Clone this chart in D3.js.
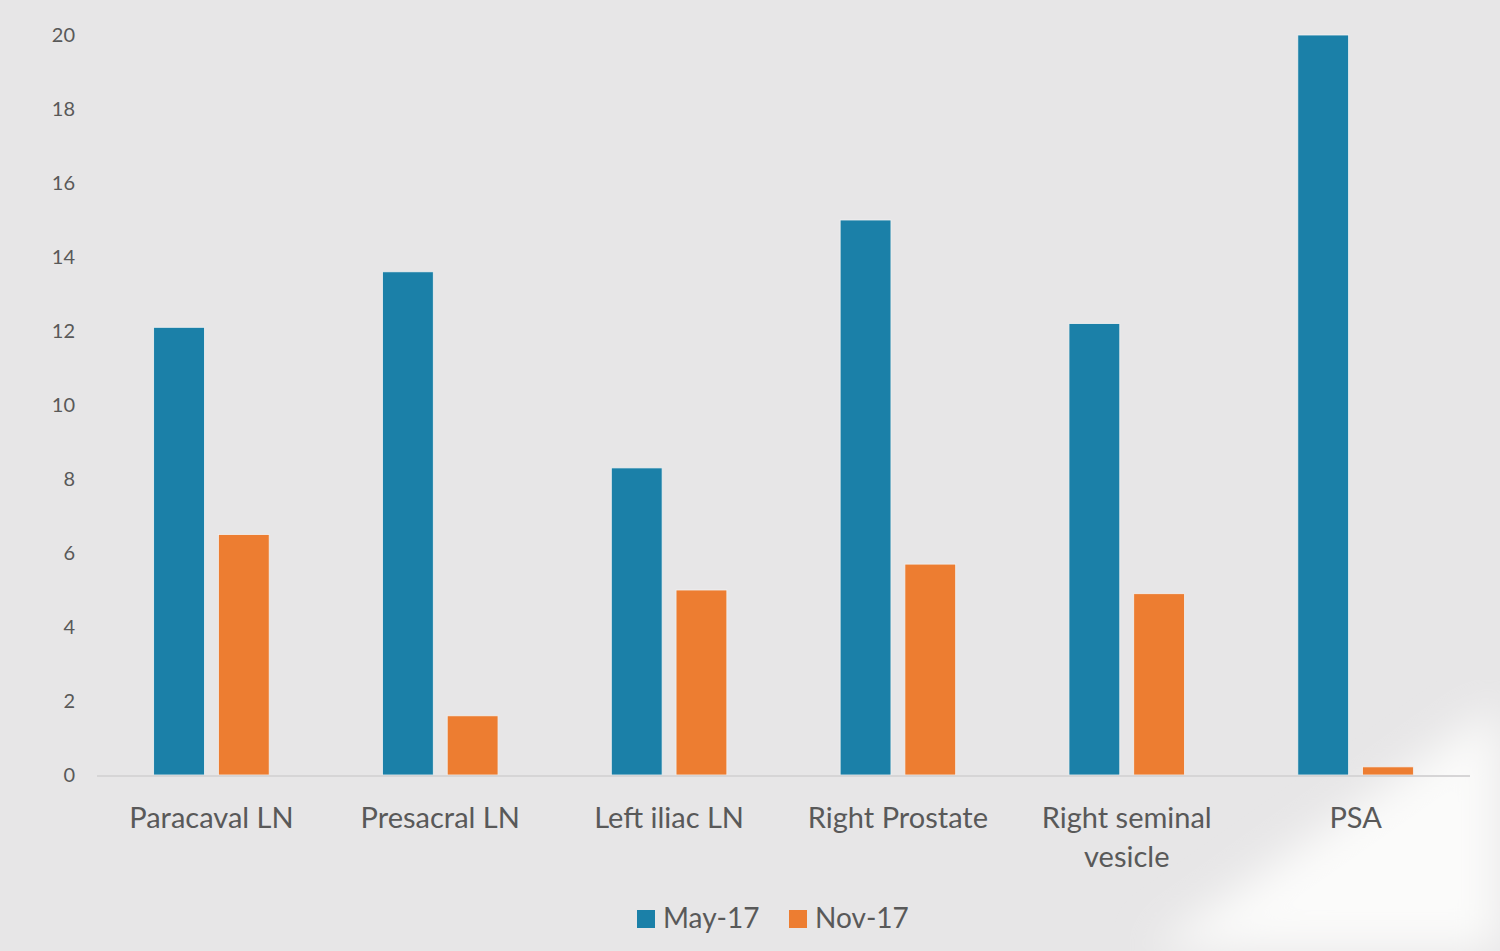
<!DOCTYPE html>
<html>
<head>
<meta charset="utf-8">
<script src="https://cdn.jsdelivr.net/npm/d3@7"></script>
<style>
  body { margin: 0; background: #e7e6e7; }
  svg { display: block; font-family: Lato, "Open Sans", sans-serif; }
</style>
</head>
<body>
<svg width="1500" height="951"></svg>
<script>
const categories = ["Paracaval LN", "Presacral LN", "Left iliac LN", "Right Prostate", "Right seminal vesicle", "PSA"];
const seriesNames = ["May-17", "Nov-17"];
const may17 = [12.1, 13.6, 8.3, 15.0, 12.2, 20.0];
const nov17 = [6.5, 1.6, 5.0, 5.7, 4.9, 0.22];
const yTicks = [0, 2, 4, 6, 8, 10, 12, 14, 16, 18, 20];
const colors = ["#1b80a8", "#ed7d31"];

const svg = d3.select("svg");
const margin = {top: 35, right: 30, bottom: 176, left: 97};
const width = 1500 - margin.left - margin.right;
const height = 951 - margin.top - margin.bottom;

// background: soft light streak in the lower right corner
const defs = svg.append("defs");
defs.append("filter").attr("id", "blur")
    .append("feGaussianBlur").attr("stdDeviation", 22);
svg.append("rect").attr("width", 1500).attr("height", 951).attr("fill", "#e7e6e7");
svg.append("polygon")
    .attr("points", "1500,705 1500,951 1150,951")
    .attr("fill", "#fbfbfa")
    .attr("filter", "url(#blur)");

const g = svg.append("g").attr("transform", `translate(${margin.left},${margin.top})`);

const x0 = d3.scaleBand().domain(categories).range([0, width]).padding(0);
const bw = x0.bandwidth();
const x1 = d3.scaleBand().domain(seriesNames).range([bw * 0.2475, bw * 0.7525]).paddingInner(0.215);
const y = d3.scaleLinear().domain([0, 20]).range([height, 0]);

// y axis labels
const yAxis = d3.axisLeft(y).tickValues(yTicks).tickSize(0).tickPadding(22);
g.append("g").call(yAxis)
    .call(s => s.select(".domain").remove())
    .selectAll("text")
    .attr("fill", "#595959")
    .style("font-size", "20px")
    .style("font-family", "Lato, 'Open Sans', sans-serif");

// bars
const data = categories.map((c, i) => ({cat: c, vals: [may17[i], nov17[i]]}));
const grp = g.selectAll(".cat").data(data).join("g")
    .attr("class", "cat")
    .attr("transform", d => `translate(${x0(d.cat)},0)`);
grp.selectAll("rect").data(d => d.vals.map((v, k) => ({k, v}))).join("rect")
    .attr("x", d => x1(seriesNames[d.k]))
    .attr("width", x1.bandwidth())
    .attr("y", d => y(d.v))
    .attr("height", d => height - y(d.v))
    .attr("fill", d => colors[d.k])
    .attr("stroke", "#f2f2f2")
    .attr("stroke-width", 0.8);

// baseline
g.append("line")
    .attr("x1", 0).attr("x2", width)
    .attr("y1", height + 1).attr("y2", height + 1)
    .attr("stroke", "#d6d5d6").attr("stroke-width", 2);

// x axis labels
const xAxis = d3.axisBottom(x0).tickSize(0).tickPadding(32);
const xg = g.append("g").attr("transform", `translate(0,${height})`).call(xAxis);
xg.select(".domain").remove();
xg.selectAll("text")
    .attr("fill", "#595959")
    .style("font-size", "29px")
    .style("font-family", "Lato, 'Open Sans', sans-serif")
    .each(function(d) {
        if (d === "Right seminal vesicle") {
            const t = d3.select(this).text(null);
            t.append("tspan").attr("x", 0).attr("dy", "0.71em").text("Right seminal");
            t.append("tspan").attr("x", 0).attr("dy", "1.35em").text("vesicle");
            t.attr("dy", null);
        }
    });

// legend
const legend = svg.append("g").attr("transform", "translate(637,910)");
const items = [{name: seriesNames[0], x: 0}, {name: seriesNames[1], x: 152}];
items.forEach((it, i) => {
    legend.append("rect").attr("x", it.x).attr("y", 0).attr("width", 18).attr("height", 18).attr("fill", colors[i]);
    legend.append("text").attr("x", it.x + 26).attr("y", 18)
        .attr("fill", "#595959")
        .style("font-size", "28px")
        .text(it.name);
});
</script>
</body>
</html>
